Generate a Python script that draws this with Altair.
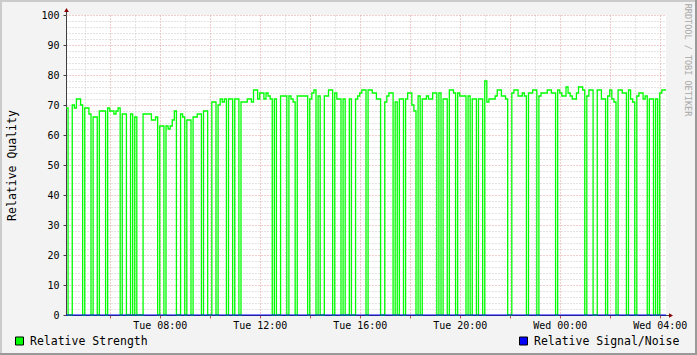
import altair as alt
import pandas as pd

# ---------------- data ----------------
START = "2024-01-02T04:15:00Z"   # Tue 04:15
END = "2024-01-03T04:15:00Z"     # Wed 04:15
STEP_MINUTES = 5

# Relative Strength, one value every 5 minutes (288 samples)
strength = [
    69, 0, 0, 70, 69, 72, 72, 70, 0, 69, 69, 67, 0, 66, 66, 0, 68, 68, 68, 0,
    69, 68, 68, 67, 68, 69, 0, 67, 67, 0, 0, 67, 0, 66, 0, 0, 0, 67, 67, 67,
    67, 65, 65, 66, 0, 63, 63, 0,
    63, 62, 63, 65, 68, 0, 0, 67, 66, 0, 65, 65, 0, 66, 66, 67, 67, 0, 68, 68,
    0, 0, 71, 71, 0, 70, 72, 71, 72, 0, 72, 72, 0, 72, 72, 0, 71, 71, 71, 72,
    72, 71, 75, 75, 72, 74, 74, 72,
    74, 73, 72, 0, 72, 0, 0, 73, 73, 73, 0, 73, 72, 71, 0, 73, 73, 73, 73, 73,
    0, 72, 74, 75, 0, 73, 0, 0, 73, 73, 75, 75, 0, 74, 72, 72, 0, 72, 0, 0,
    72, 0, 0, 72, 73, 74, 75, 75,
    0, 75, 75, 74, 74, 72, 72, 0, 0, 71, 73, 74, 74, 0, 71, 0, 72, 72, 0, 72,
    74, 74, 70, 68, 0, 73, 0, 72, 72, 73, 72, 72, 74, 74, 0, 74, 0, 72, 72, 0,
    75, 75, 74, 0, 74, 73, 73, 73,
    0, 73, 0, 72, 72, 0, 72, 72, 0, 78, 71, 72, 72, 72, 73, 75, 75, 73, 73, 72,
    0, 0, 74, 75, 75, 73, 73, 74, 73, 0, 74, 74, 75, 75, 0, 73, 74, 74, 74, 75,
    75, 74, 74, 0, 75, 74, 73, 73,
    76, 74, 73, 72, 72, 74, 76, 76, 75, 0, 73, 75, 75, 0, 0, 75, 75, 72, 72, 0,
    73, 75, 72, 71, 0, 75, 75, 74, 74, 0, 75, 72, 71, 0, 73, 74, 74, 72, 73, 0,
    72, 72, 0, 72, 0, 74, 75, 75,
]

# Relative Signal/Noise stays flat at 0
noise_times = [START, END]
noise_values = [0, 0]

y_major = [0, 10, 20, 30, 40, 50, 60, 70, 80, 90, 100]
y_minor = [v for v in range(2, 100, 2) if v % 10 != 0]

x_major = [pd.Timestamp("2024-01-02T06:00:00Z") + pd.Timedelta(hours=2 * k) for k in range(12)]
x_minor = [pd.Timestamp("2024-01-02T05:00:00Z") + pd.Timedelta(hours=2 * k) for k in range(12)]

series_names = ["Relative Strength", "Relative Signal/Noise"]
series_colors = ["#00FF00", "#0000FF"]
watermark = "RRDTOOL / TOBI OETIKER"
y_title = "Relative Quality"

# ---------------- build tables ----------------
def ms(t):
    return int(pd.Timestamp(t).value // 10**6)

t0 = pd.Timestamp(START)
times = [t0 + pd.Timedelta(minutes=STEP_MINUTES * i) for i in range(len(strength) + 1)]
df = pd.DataFrame({
    "time": [t.strftime("%Y-%m-%dT%H:%M:%SZ") for t in times],
    "value": strength + strength[-1:],
})
df_noise = pd.DataFrame({"time": noise_times, "value": noise_values})

FONT = "DejaVu Sans Mono"
MINOR_GRID = "#C8C8C8"
MAJOR_GRID = "#E59A9A"
AXIS_COL = "#404040"
ARROW_COL = "#8B0000"

x_scale = alt.Scale(type="utc", domain=[ms(START), ms(END)], nice=False)
y_scale = alt.Scale(domain=[0, 100], nice=False)

minor = alt.Chart(df).mark_line(opacity=0).encode(
    x=alt.X("time:T", scale=x_scale, title=None,
            axis=alt.Axis(values=[ms(t) for t in x_minor], grid=True, gridColor=MINOR_GRID,
                          gridDash=[1, 2], labels=False, ticks=False, domain=False,
                          orient="bottom")),
    y=alt.Y("value:Q", scale=y_scale, title=None,
            axis=alt.Axis(values=y_minor, grid=True, gridColor=MINOR_GRID, gridDash=[1, 2],
                          labels=False, ticks=False, domain=False, orient="left")),
)

major = alt.Chart(df).mark_line(opacity=0).encode(
    x=alt.X("time:T", scale=x_scale, title=None,
            axis=alt.Axis(values=[ms(t) for t in x_major], grid=True, gridColor=MAJOR_GRID,
                          gridDash=[1, 2], ticks=True, tickColor="#C05050", tickSize=3,
                          labelExpr="utchours(datum.value) % 4 == 0 ? utcFormat(datum.value, '%a %H:%M') : ''",
                          labelFont=FONT, labelFontSize=10, labelColor="black",
                          labelPadding=2, labelOverlap=False, labelFlush=False,
                          domain=True, domainColor=AXIS_COL, orient="bottom")),
    y=alt.Y("value:Q", scale=y_scale,
            axis=alt.Axis(values=y_major, grid=True, gridColor=MAJOR_GRID, gridDash=[1, 2],
                          ticks=True, tickColor=AXIS_COL, tickSize=3,
                          labelFont=FONT, labelFontSize=10, labelColor="black", labelPadding=4,
                          labelOverlap=False, labelFlush=False,
                          domain=True, domainColor=AXIS_COL, orient="left",
                          title=y_title, titleFont=FONT, titleFontSize=11.5,
                          titleFontWeight="normal", titleColor="black", titlePadding=23)),
)

line = alt.Chart(df).mark_line(interpolate="step-after", color=series_colors[0], strokeWidth=1.3).encode(
    x=alt.X("time:T", scale=x_scale, axis=None),
    y=alt.Y("value:Q", scale=y_scale, axis=None),
)

noise = alt.Chart(df_noise).mark_line(interpolate="step-after", color=series_colors[1], strokeWidth=1).encode(
    x=alt.X("time:T", scale=x_scale, axis=None),
    y=alt.Y("value:Q", scale=y_scale, axis=None),
)

one = pd.DataFrame({"k": [0]})

def rule(x, x2, y, y2, color, w):
    return alt.Chart(one).mark_rule(color=color, strokeWidth=w).encode(
        x=alt.value(x), x2=alt.value(x2), y=alt.value(y), y2=alt.value(y2))

# frame and axis extensions
frame = [
    rule(-66, 631, -14, -14, "#CBCBCB", 2),
    rule(-65, -65, -15, 340, "#CBCBCB", 2),
    rule(-66, 631, 339, 339, "#999999", 2),
    rule(630, 630, -15, 340, "#999999", 2),
    rule(0.5, 0.5, -6, 0, AXIS_COL, 1),
    rule(600, 604, 300.5, 300.5, AXIS_COL, 1),
]

arrow_up = alt.Chart(one).mark_point(shape="triangle-up", filled=True, size=22, color=ARROW_COL, opacity=1).encode(
    x=alt.value(0.5), y=alt.value(-5))
arrow_right = alt.Chart(one).mark_point(shape="triangle-right", filled=True, size=22, color=ARROW_COL, opacity=1).encode(
    x=alt.value(605), y=alt.value(300.5))

def legend_item(i, x_box, x_text):
    d = pd.DataFrame({"name": [series_names[i]]})
    box = alt.Chart(d).mark_square(size=64, filled=True, color=series_colors[i],
                                   stroke="black", strokeWidth=1, opacity=1).encode(
        x=alt.value(x_box), y=alt.value(326))
    txt = alt.Chart(d).mark_text(align="left", baseline="middle", font=FONT, fontSize=11.5,
                                 color="black").encode(
        x=alt.value(x_text), y=alt.value(326.5), text="name:N")
    return [box, txt]

wm = alt.Chart(pd.DataFrame({"t": [watermark]})).mark_text(
    angle=90, font=FONT, fontSize=8.5, color="#A8A8A8", align="center", baseline="middle").encode(
    x=alt.value(622), y=alt.value(45), text="t:N")

layers = [minor, major, line, noise] + frame + [arrow_up, arrow_right, wm] \
    + legend_item(0, -46.5, -36) + legend_item(1, 457.5, 468)

chart = alt.layer(*layers).resolve_axis(x="independent", y="independent").properties(
    width=600, height=300, autosize="none",
    padding={"left": 66, "top": 15, "right": 31, "bottom": 40},
).configure(background="#F3F3F3").configure_view(fill="white", stroke=None)

chart.save("out.html", embed_options={"renderer": "svg", "actions": False})
